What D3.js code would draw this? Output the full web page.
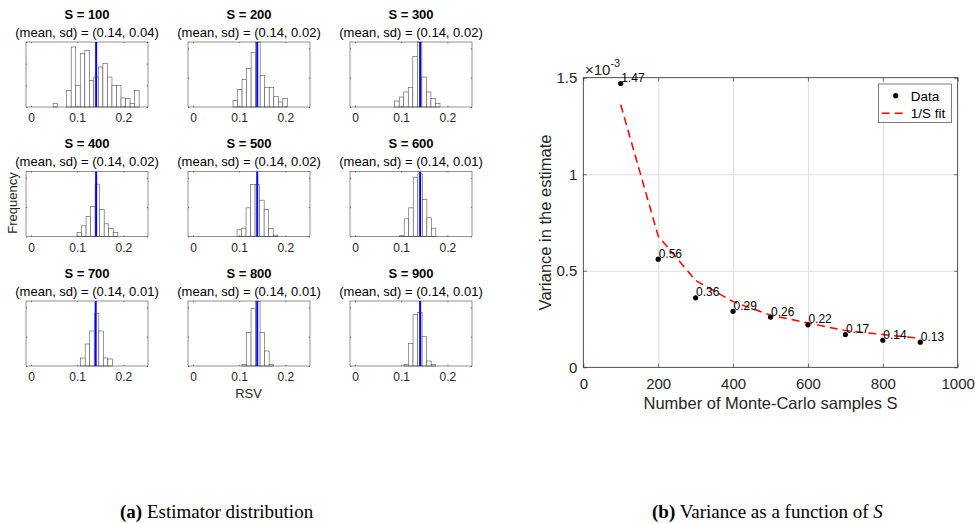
<!DOCTYPE html>
<html>
<head>
<meta charset="utf-8">
<script src="https://cdn.jsdelivr.net/npm/d3@7"></script>
<style>
  body { margin: 0; background: #fff; }
  text { font-family: "Liberation Sans", Arial, Helvetica, sans-serif; }
</style>
</head>
<body>
<svg id="fig" width="975" height="523"></svg>
<script>
// ---- data: estimator distribution (a) ----
const sampleSizes = [100, 200, 300, 400, 500, 600, 700, 800, 900];
const rsvMeans = [0.141, 0.139, 0.141, 0.141, 0.139, 0.141, 0.140, 0.139, 0.141];
const rsvSds = [0.04, 0.02, 0.02, 0.02, 0.02, 0.01, 0.01, 0.01, 0.01];
const binWidth = 0.0098;
const binStarts = [0.0478, 0.0866, 0.0859, 0.0996, 0.0952, 0.0967, 0.1075, 0.106, 0.106];
const binCounts = [
  [1, 0, 0, 5, 18, 6.5, 16, 17, 8, 9, 12, 13, 9, 6.5, 6.5, 2.7, 2.5, 1, 5],
  [2, 5.2, 8.3, 11.5, 16.3, 19.5, 9.5, 5.8, 5.8, 3.2, 1.5, 2.5],
  [1.8, 3, 4.5, 5.8, 15.2, 19.5, 9, 4.5, 2.5, 1],
  [1.2, 3.2, 6, 9, 15.7, 8.1, 3.8, 2.4, 1.2],
  [2, 2.5, 8.6, 15.6, 15.6, 10.9, 8.1, 2.4, 0.4],
  [0.2, 5.3, 8.6, 17.8, 18.8, 11.1, 5.6, 2.5],
  [2.4, 6.6, 10.5, 15.8, 10.5, 2.4, 2.1],
  [0.5, 10, 17.3, 19.3, 10, 4.5, 0.5],
  [0.5, 6.8, 15.4, 16, 8.8, 1.5, 0.5]
];
const histYMax = [19.5, 19.5, 19.5, 19.5, 19.5, 19.5, 19.5, 19.5, 19.5];
const histYTicks = [
  [0, 6.5, 13, 19.5], [0, 8.8, 17.6], [0, 8.8, 17.6],
  [0, 8.8, 17.6], [0, 8.8, 17.6], [0, 8.8, 17.6],
  [0, 8.8, 17.6], [0, 8.8, 17.6], [0, 8.8, 17.6]
];
const histXTicks = [0, 0.1, 0.2];

// ---- data: variance vs S (b) ----
const variances = [1.47e-3, 0.56e-3, 0.36e-3, 0.29e-3, 0.26e-3, 0.22e-3, 0.17e-3, 0.14e-3, 0.13e-3];
const fitValues = [1.36e-3, 0.68e-3, 0.45e-3, 0.34e-3, 0.27e-3, 0.23e-3, 0.19e-3, 0.17e-3, 0.15e-3];
const varXTicks = [0, 200, 400, 600, 800, 1000];
const varYTicks = [0, 0.5e-3, 1e-3, 1.5e-3];

const axisColor = "#262626";
const svg = d3.select("#fig");

// ---------- (a) histogram grid ----------
const hist = {left: [26, 188, 350], top: [42, 171.5, 301], width: 122, height: 65};
const hx = d3.scaleLinear().domain([-0.0108, 0.2532]).range([0, hist.width]);

sampleSizes.forEach((s, i) => {
  const col = i % 3, row = Math.floor(i / 3);
  const g = svg.append("g")
    .attr("transform", `translate(${hist.left[col]},${hist.top[row]})`);
  const hy = d3.scaleLinear().domain([0, histYMax[i]]).range([hist.height, 0]);

  const bins = binCounts[i].map((c, k) => ({
    x0: binStarts[i] + k * binWidth,
    x1: binStarts[i] + (k + 1) * binWidth,
    c: c
  }));

  g.selectAll("rect.bar")
    .data(bins.filter(d => d.c > 0))
    .join("rect")
    .attr("class", "bar")
    .attr("x", d => hx(d.x0))
    .attr("width", d => hx(d.x1) - hx(d.x0))
    .attr("y", d => hy(d.c))
    .attr("height", d => hy(0) - hy(d.c))
    .attr("fill", "white")
    .attr("stroke", "#555")
    .attr("stroke-width", 0.6);

  // mean line
  g.append("line")
    .attr("x1", hx(rsvMeans[i])).attr("x2", hx(rsvMeans[i]))
    .attr("y1", 0).attr("y2", hist.height)
    .attr("stroke", "#0000ff")
    .attr("stroke-width", 2);

  // axes (ticks inward on all four sides)
  const bottom = g.append("g")
    .attr("transform", `translate(0,${hist.height})`)
    .call(d3.axisBottom(hx).tickValues(histXTicks).tickSize(-1.3).tickPadding(6.5)
      .tickFormat(d => d === 0 ? "0" : d3.format(".1f")(d)));
  g.append("g")
    .call(d3.axisTop(hx).tickValues(histXTicks).tickSize(-1.3).tickFormat(""));
  g.append("g")
    .call(d3.axisLeft(hy).tickValues(histYTicks[i]).tickSize(-1.3).tickFormat(""));
  g.append("g")
    .attr("transform", `translate(${hist.width},0)`)
    .call(d3.axisRight(hy).tickValues(histYTicks[i]).tickSize(-1.3).tickFormat(""));
  g.selectAll(".domain").remove();
  g.selectAll(".tick line").attr("stroke", axisColor).attr("stroke-width", 0.5);
  bottom.selectAll("text").attr("font-size", 12).attr("fill", axisColor)
    .attr("font-family", "Liberation Sans, Arial, sans-serif");

  g.append("rect")
    .attr("width", hist.width).attr("height", hist.height)
    .attr("fill", "none").attr("stroke", axisColor).attr("stroke-width", 0.5);

  // titles
  g.append("text")
    .attr("x", hist.width / 2).attr("y", -23.3)
    .attr("text-anchor", "middle")
    .attr("font-size", 13).attr("font-weight", "bold").attr("fill", "#000")
    .text(`S = ${s}`);
  g.append("text")
    .attr("x", hist.width / 2).attr("y", -5.3)
    .attr("text-anchor", "middle")
    .attr("font-size", 13).attr("fill", "#000")
    .text(`(mean, sd) = (${d3.format(".2f")(0.14)}, ${d3.format(".2f")(rsvSds[i])})`);
});

svg.append("text")
  .attr("transform", "translate(16.6,203) rotate(-90)")
  .attr("text-anchor", "middle")
  .attr("font-size", 13).attr("fill", axisColor)
  .text("Frequency");

svg.append("text")
  .attr("x", 248.5).attr("y", 398)
  .attr("text-anchor", "middle")
  .attr("font-size", 13).attr("fill", axisColor)
  .text("RSV");

// ---------- (b) variance vs S ----------
const vm = {left: 583.3, top: 77.7, right: 957.7, bottom: 367.3};
const vx = d3.scaleLinear().domain([0, 1000]).range([vm.left, vm.right]);
const vy = d3.scaleLinear().domain([0, 1.5e-3]).range([vm.bottom, vm.top]);
const pw = vm.right - vm.left, ph = vm.bottom - vm.top;

// grid lines
svg.append("g")
  .attr("transform", `translate(0,${vm.bottom})`)
  .call(d3.axisBottom(vx).tickValues(varXTicks.slice(1, -1)).tickSize(-ph).tickFormat(""))
  .call(a => a.select(".domain").remove())
  .selectAll("line").attr("stroke", "#dfdfdf").attr("stroke-width", 1);
svg.append("g")
  .attr("transform", `translate(${vm.left},0)`)
  .call(d3.axisLeft(vy).tickValues(varYTicks.slice(1, -1)).tickSize(-pw).tickFormat(""))
  .call(a => a.select(".domain").remove())
  .selectAll("line").attr("stroke", "#dfdfdf").attr("stroke-width", 1);

// axes
const vBottom = svg.append("g")
  .attr("transform", `translate(0,${vm.bottom})`)
  .call(d3.axisBottom(vx).tickValues(varXTicks).tickSize(-3.7).tickPadding(10.8)
    .tickFormat(d3.format("d")));
const vLeft = svg.append("g")
  .attr("transform", `translate(${vm.left},0)`)
  .call(d3.axisLeft(vy).tickValues(varYTicks).tickSize(-3.7).tickPadding(6)
    .tickFormat(d => d3.format("~g")(Math.round(d * 1e4) / 10)));
svg.append("g")
  .attr("transform", `translate(0,${vm.top})`)
  .call(d3.axisTop(vx).tickValues(varXTicks).tickSize(-3.7).tickFormat(""));
svg.append("g")
  .attr("transform", `translate(${vm.right},0)`)
  .call(d3.axisRight(vy).tickValues(varYTicks).tickSize(-3.7).tickFormat(""));
svg.selectAll(".domain").remove();
[vBottom, vLeft].forEach(a => a.selectAll("text")
  .attr("font-size", 15).attr("fill", axisColor)
  .attr("font-family", "Liberation Sans, Arial, sans-serif"));
svg.selectAll(".tick line").filter(function() { return d3.select(this).attr("stroke") !== "#dfdfdf"; })
  .attr("stroke", axisColor).attr("stroke-width", 0.6);

svg.append("rect")
  .attr("x", vm.left).attr("y", vm.top).attr("width", pw).attr("height", ph)
  .attr("fill", "none").attr("stroke", axisColor).attr("stroke-width", 0.8);

// exponent label
svg.append("text")
  .attr("x", 585).attr("y", 75.4)
  .attr("font-size", 15).attr("fill", axisColor)
  .text("\u00d710")
  .append("tspan")
  .attr("dy", -8).attr("font-size", 11)
  .text("-3");

// fit curve
svg.append("path")
  .datum(sampleSizes.map((s, i) => [s, fitValues[i]]))
  .attr("fill", "none")
  .attr("stroke", "#ff0000")
  .attr("stroke-width", 1.5)
  .attr("stroke-dasharray", "8,5")
  .attr("d", d3.line().x(d => vx(d[0])).y(d => vy(d[1])));

// data points + labels
svg.selectAll("circle.pt")
  .data(sampleSizes.map((s, i) => ({s, v: variances[i]})))
  .join("circle")
  .attr("class", "pt")
  .attr("cx", d => vx(d.s)).attr("cy", d => vy(d.v))
  .attr("r", 2.6).attr("fill", "#000");
svg.selectAll("text.lbl")
  .data(sampleSizes.map((s, i) => ({s, v: variances[i]})))
  .join("text")
  .attr("class", "lbl")
  .attr("x", d => vx(d.s) + 0.5).attr("y", d => vy(d.v) - 1.5)
  .attr("font-size", 12).attr("fill", "#000")
  .text(d => d3.format(".2f")(d.v * 1e3));

// axis labels
svg.append("text")
  .attr("x", (vm.left + vm.right) / 2).attr("y", 409)
  .attr("text-anchor", "middle")
  .attr("font-size", 16.5).attr("fill", axisColor)
  .text("Number of Monte-Carlo samples S");
svg.append("text")
  .attr("transform", `translate(550.5,${(vm.top + vm.bottom) / 2}) rotate(-90)`)
  .attr("text-anchor", "middle")
  .attr("font-size", 16.5).attr("fill", axisColor)
  .text("Variance in the estimate");

// legend
const lg = svg.append("g").attr("transform", "translate(878.3,84)");
lg.append("rect").attr("width", 73.4).attr("height", 38.7)
  .attr("fill", "white").attr("stroke", axisColor).attr("stroke-width", 0.6);
lg.append("circle").attr("cx", 17.4).attr("cy", 11.7).attr("r", 2.6).attr("fill", "#000");
lg.append("line").attr("x1", 3.4).attr("x2", 28.4).attr("y1", 29.3).attr("y2", 29.3)
  .attr("stroke", "#ff0000").attr("stroke-width", 1.5).attr("stroke-dasharray", "8,5");
lg.append("text").attr("x", 32.4).attr("y", 16.5).attr("font-size", 13.5).attr("fill", "#000").text("Data");
lg.append("text").attr("x", 32.4).attr("y", 34.1).attr("font-size", 13.5).attr("fill", "#000").text("1/S fit");

// captions
const cap = [
  {x: 120, tag: "(a)", text: " Estimator distribution"},
  {x: 652, tag: "(b)", text: " Variance as a function of "}
];
cap.forEach((c, i) => {
  const t = svg.append("text")
    .attr("x", c.x).attr("y", 518)
    .attr("font-size", 19).attr("fill", "#000")
    .style("font-family", "'Liberation Serif', 'DejaVu Serif', serif");
  t.append("tspan").attr("font-weight", "bold").text(c.tag);
  t.append("tspan").text(c.text);
  if (i === 1) t.append("tspan").attr("font-style", "italic").text("S");
});
</script>
</body>
</html>
